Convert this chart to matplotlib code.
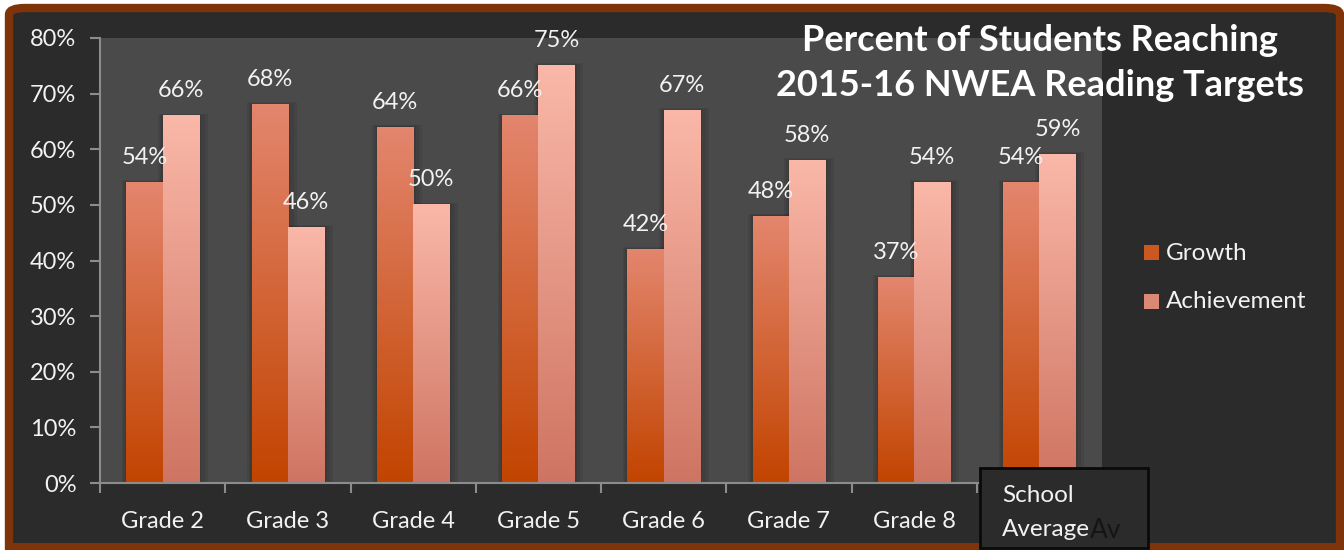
import numpy as np
import matplotlib.pyplot as plt
from matplotlib.patches import Rectangle, FancyBboxPatch
from matplotlib.colors import LinearSegmentedColormap

plt.rcParams['font.family'] = ['Lato', 'DejaVu Sans']

categories = ['Grade 2', 'Grade 3', 'Grade 4', 'Grade 5', 'Grade 6', 'Grade 7', 'Grade 8', 'School Average']
growth = [54, 68, 64, 66, 42, 48, 37, 54]
achievement = [66, 46, 50, 75, 67, 58, 54, 59]
series_names = ['Growth', 'Achievement']
yticks = [0, 10, 20, 30, 40, 50, 60, 70, 80]
title = 'Percent of Students Reaching\n2015-16 NWEA Reading Targets'

W, H = 1344, 550
fig = plt.figure(figsize=(W / 100, H / 100), dpi=100)
fig.patch.set_facecolor('white')

# brown frame with dark inside (runs off the bottom edge)
frame = FancyBboxPatch((9 / W, -0.1), (1340 - 9) / W, (H - 8) / H + 0.1,
                       boxstyle='round,pad=0,rounding_size=0.012',
                       transform=fig.transFigure, facecolor='#2b2b2b', edgecolor='#7f3308',
                       linewidth=6, zorder=-2)
fig.patches.append(frame)
fig.patches.append(Rectangle((9 / W, -0.1), 2, (H - 543) / H + 0.1, transform=fig.transFigure,
                             facecolor='#7f3308', edgecolor='none', zorder=-1))

ax = fig.add_axes([100 / W, (H - 483) / H, (1102 - 100) / W, (483 - 38) / H])
ax.set_zorder(1)
ax.set_facecolor('#4a4a4a')

cmap_g = LinearSegmentedColormap.from_list('g', ['#c24400', '#e3866e'])
cmap_a = LinearSegmentedColormap.from_list('a', ['#cf7462', '#fab8a8'])
grad = np.linspace(0, 1, 256).reshape(-1, 1)

w = 0.29
x = np.arange(len(categories))
for vals, off, cmap in [(growth, -w / 2, cmap_g), (achievement, w / 2, cmap_a)]:
    for xi, v in zip(x, vals):
        x0 = xi + off - w / 2
        # soft shadow
        for s in [0.07, 0.045, 0.02]:
            ax.add_patch(Rectangle((x0 - s * 0.5, 0), w + s * 1.5, v + s * 6,
                                   facecolor='black', alpha=0.07, edgecolor='none', zorder=1))
        ax.imshow(grad, cmap=cmap, origin='lower', aspect='auto',
                  extent=[x0, x0 + w, 0, v], zorder=2)
        ax.text(xi + off, v + 2.6, f'{v}%', ha='center', va='bottom', color='#f2f2f2',
                fontsize=17, zorder=3)

ax.set_xlim(-0.5, len(categories) - 0.5)
ax.set_ylim(0, 80)
ax.set_yticks(yticks)
ax.set_yticklabels([f'{t}%' for t in yticks], fontsize=17, color='#f2f2f2')
ax.set_xticks(np.arange(len(categories) + 1) - 0.5)
ax.set_xticklabels([])
ax.set_xticks(x, minor=True)
ax.set_xticklabels(categories[:-1] + [''], minor=True, fontsize=17, color='#f2f2f2')
ax.tick_params(axis='x', which='minor', length=0, pad=20)
ax.tick_params(axis='both', which='major', color='#8c8c8c', length=7, width=1.5)
ax.tick_params(axis='y', pad=10)
for s in ['top', 'right']:
    ax.spines[s].set_visible(False)
for s in ['left', 'bottom']:
    ax.spines[s].set_color('#8c8c8c')
    ax.spines[s].set_linewidth(1.5)

# legend
for i, (name, cmap) in enumerate(zip(series_names, [cmap_g, cmap_a])):
    yy = 253 + i * 49
    fig.patches.append(Rectangle((1144 / W, (H - yy - 7) / H), 15 / W, 15 / H,
                                 transform=fig.transFigure, facecolor=cmap(0.3),
                                 edgecolor='none'))
    fig.text(1166 / W, (H - yy) / H, name, ha='left', va='center', fontsize=17.5, color='#f2f2f2')

# School Average label box
fig.patches.append(Rectangle((980 / W, (H - 548) / H), 168 / W, 80 / H, transform=fig.transFigure,
                             facecolor='#2b2b2b', edgecolor='#0a0a0a', linewidth=2, zorder=5))
fig.text(1002 / W, (H - 495) / H, 'School', ha='left', va='center', fontsize=17.5,
         color='#f2f2f2', zorder=6)
t = fig.text(1002 / W, (H - 530) / H, 'Average', ha='left', va='center', fontsize=17.5,
             color='#f2f2f2', zorder=6)
fig.canvas.draw()
bb = t.get_window_extent()
fig.text(bb.x1 / W, (H - 530) / H, 'Av', ha='left', va='center', fontsize=19,
         color='#151515', zorder=6)

fig.text(1040 / W, (H - 63) / H, title, ha='center', va='center', fontsize=26,
         fontweight='bold', color='white', linespacing=1.45)

fig.savefig('out.png', dpi=100, facecolor=fig.get_facecolor())
